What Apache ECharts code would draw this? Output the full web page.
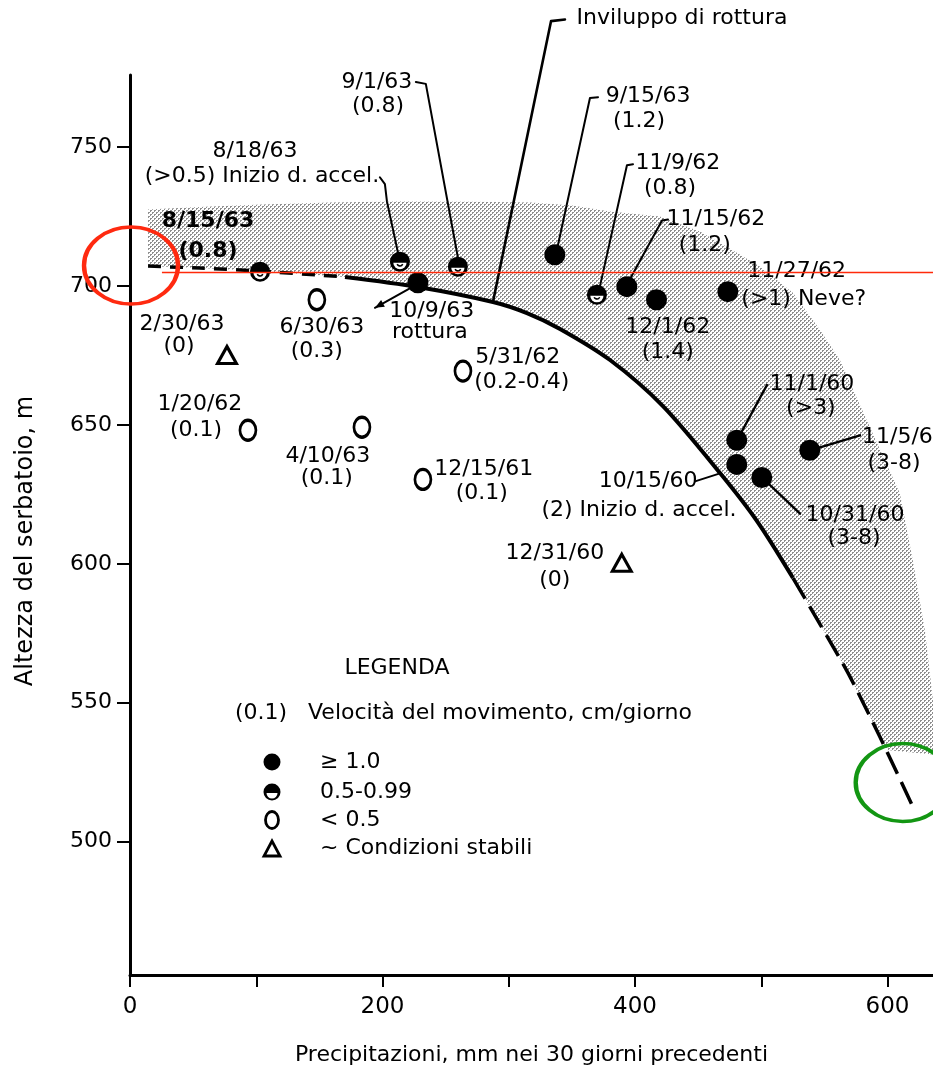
<!DOCTYPE html>
<html>
<head>
<meta charset="utf-8">
<script src="https://cdn.jsdelivr.net/npm/echarts@6/dist/echarts.min.js"></script>
<style>
html,body{margin:0;padding:0;background:#fff;}
#chart{width:933px;height:1075px;}
</style>
</head>
<body>
<div id="chart"></div>
<script>
// ================= DATA =================
// axis ticks / labels
const xTickValues = [0, 100, 200, 300, 400, 500, 600];
const xLabelValues = [0, 200, 400, 600];
const yTickValues = [500, 550, 600, 650, 700, 750];

// velocity >= 1.0 cm/day (filled circles)
const fastDates  = ['10/9/63', '9/15/63', '11/15/62', '12/1/62', '11/27/62', '11/1/60', '10/15/60', '10/31/60', '11/5/60'];
const fastPrecip = [228, 336.5, 393.5, 417, 473.5, 480.6, 480.6, 500.4, 538.4];
const fastLevel  = [701.2, 711.3, 699.8, 695.1, 698, 644.5, 635.8, 631.1, 640.9];

// velocity 0.5 - 0.99 (half filled)
const mediumDates  = ['8/15/63', '8/18/63', '9/1/63', '11/9/62'];
const mediumPrecip = [103, 213.8, 259.7, 369.8];
const mediumLevel  = [705.2, 708.8, 707, 696.9];

// velocity < 0.5 (open circles)
const slowDates  = ['1/20/62', '6/30/63', '4/10/63', '12/15/61', '5/31/62'];
const slowPrecip = [93.4, 148, 183.7, 232, 263.7];
const slowLevel  = [648.1, 695.1, 649.2, 630.4, 669.4];

// ~ stable conditions (triangles)
const stableDates  = ['2/30/63', '12/31/60'];
const stablePrecip = [76.8, 389.5];
const stableLevel  = [675.2, 600.4];

// failure envelope (Inviluppo di rottura)
const envDashLeftX  = [14.3, 55.4, 103, 170.3];
const envDashLeftY  = [707.2, 706.5, 705.4, 703.3];
const envSolidX     = [170.3, 228.1, 287.5, 314.4, 340.6, 380.2, 422.1, 467.3, 496.6, 525.1];
const envSolidY     = [703.3, 699.7, 694.3, 690.3, 684.6, 673.4, 656.8, 632.7, 615.4, 594.9];
const envDashRightX = [525.1, 567.9, 594.0, 620.1];
const envDashRightY = [594.9, 561.4, 537.7, 512.5];

// upper edge of the shaded band
const bandTopX = [14.3, 60, 105.3, 160, 211.4, 270, 316.7, 350, 380, 419.6, 451.3, 472.7, 498.8, 525, 546.4, 562.2, 586, 609.7, 620, 629.6, 636, 636];
const bandTopY = [727.6, 728.6, 729.4, 730.1, 730.5, 730.4, 730.1, 729, 726.9, 725.1, 719.7, 714.2, 707.1, 697.6, 684.3, 673.4, 649.2, 625.4, 601.2, 575.9, 550.6, 531.4];
const bandCutX = 599.4;
const bandCutY = 533.0;

// red reference line and highlight ellipses
const redLineLevel = 704.9;
const redLineFrom = 25.3;
const redMark = [0.8, 707.4];
const greenMark = [612, 521.3];

// ================= LAYOUT (annotations) =================
const FONT = '"DejaVu Sans", "Noto Sans", sans-serif';
const LBL = 22;
const annotations = [
  {t: '8/18/63', x: 99.0, y: 748.6},
  {t: '(>0.5) Inizio d. accel.', x: 104.5, y: 739.5},
  {t: '8/15/63', x: 61.8, y: 723.3, b: true},
  {t: '(0.8)', x: 61.8, y: 712.4, b: true},
  {t: '9/1/63', x: 195.6, y: 773.5},
  {t: '(0.8)', x: 196.4, y: 764.8},
  {t: 'Inviluppo di rottura', x: 437.2, y: 796.4},
  {t: '9/15/63', x: 410.3, y: 768.4},
  {t: '(1.2)', x: 403.2, y: 759.4},
  {t: '11/9/62', x: 434, y: 744.2},
  {t: '(0.8)', x: 427.7, y: 735.2},
  {t: '11/15/62', x: 464, y: 724.0},
  {t: '(1.2)', x: 455.3, y: 714.6},
  {t: '11/27/62', x: 528, y: 705.2},
  {t: '(>1) Neve?', x: 533.6, y: 695.1},
  {t: '12/1/62', x: 425.9, y: 685.0},
  {t: '(1.4)', x: 425.9, y: 676.3},
  {t: '2/30/63', x: 41.2, y: 686.1},
  {t: '(0)', x: 38.8, y: 678.2},
  {t: '6/30/63', x: 152, y: 685.0},
  {t: '(0.3)', x: 148, y: 676.7},
  {t: '10/9/63', x: 239, y: 690.8},
  {t: 'rottura', x: 237.5, y: 683.2},
  {t: '5/31/62', x: 307.1, y: 674.5},
  {t: '(0.2-0.4)', x: 310.3, y: 665.5},
  {t: '1/20/62', x: 55.4, y: 657.6},
  {t: '(0.1)', x: 52.3, y: 648.1},
  {t: '4/10/63', x: 156.7, y: 638.8},
  {t: '(0.1)', x: 155.9, y: 630.9},
  {t: '12/15/61', x: 280.2, y: 634.0},
  {t: '(0.1)', x: 278.6, y: 625.4},
  {t: '12/31/60', x: 336.5, y: 603.8},
  {t: '(0)', x: 336.5, y: 594.1},
  {t: '10/15/60', x: 410.3, y: 629.7},
  {t: '(2) Inizio d. accel.', x: 403.1, y: 619.3},
  {t: '11/1/60', x: 540.1, y: 664.8},
  {t: '(>3)', x: 539.3, y: 656.1},
  {t: '11/5/60', x: 579.8, y: 645.6, align: 'left'},
  {t: '(3-8)', x: 605.1, y: 636.3},
  {t: '10/31/60', x: 574.2, y: 617.4},
  {t: '(3-8)', x: 573.4, y: 609.1}
];
const leaders = [
  {w: 2, p: [[197.9, 739.2], [201.9, 736.7], [203.5, 730.5], [212.2, 712.1]]},
  {w: 2, p: [[226.4, 773.5], [234.3, 772.8], [259.7, 710.3]]},
  {w: 2.6, p: [[344.5, 796.0], [333.5, 795.4], [287.5, 694.4]]},
  {w: 2, p: [[370.7, 768], [364.3, 767.7], [338.2, 713.2]]},
  {w: 2, p: [[398.4, 743.9], [393.6, 743.5], [372.2, 699.9]]},
  {w: 2, p: [[426.1, 724], [421.4, 723.6], [394.4, 701.2]]},
  {w: 2, p: [[447.5, 629.7], [467.3, 632.6]]},
  {w: 2.4, p: [[480.8, 644.5], [504.5, 664.4]]},
  {w: 2.4, p: [[538.6, 640.9], [578.2, 646.3]]},
  {w: 2.4, p: [[500.6, 631.1], [530.7, 618.1]]},
  {w: 2, p: [[224.1, 699.8], [194, 692.2]], arrow: true}
];

// ================= BUILD =================
const zip = (xs, ys) => xs.map((x, i) => [x, ys[i]]);
const fastData = zip(fastPrecip, fastLevel).map((v, i) => ({name: fastDates[i], value: v}));
const mediumData = zip(mediumPrecip, mediumLevel).map((v, i) => ({name: mediumDates[i], value: v}));
const slowData = zip(slowPrecip, slowLevel).map((v, i) => ({name: slowDates[i], value: v}));
const stableData = zip(stablePrecip, stableLevel).map((v, i) => ({name: stableDates[i], value: v}));

const envLeft = zip(envDashLeftX, envDashLeftY);
const envSolid = zip(envSolidX, envSolidY);
const envRight = zip(envDashRightX, envDashRightY);

// band polygon (upper edge, then back along the envelope)
const bandPoly = zip(bandTopX, bandTopY)
  .concat([[bandCutX, bandCutY]])
  .concat(envRight.filter(p => p[0] < bandCutX).reverse())
  .concat(envSolid.slice().reverse())
  .concat(envLeft.slice().reverse());

// stipple (halftone dots) pattern
const pat = document.createElement('canvas');
pat.width = 4; pat.height = 4;
(function () {
  const g = pat.getContext('2d');
  g.fillStyle = '#ffffff'; g.fillRect(0, 0, 4, 4);
  g.fillStyle = '#8e8e8e';
  g.fillRect(0, 0, 2, 1); g.fillRect(0, 1, 1, 1);
  g.fillRect(2, 2, 2, 1); g.fillRect(2, 3, 1, 1);
})();

const chart = echarts.init(document.getElementById('chart'), null, {renderer: 'canvas'});

function txt(t, x, y, size, align, bold) {
  return {
    type: 'text', x: x, y: y, silent: true,
    style: {
      text: t, fill: '#000', font: (bold ? 'bold ' : '') + size + 'px ' + FONT,
      align: align || 'center', verticalAlign: 'middle',
      textAlign: align || 'center', textVerticalAlign: 'middle'
    }
  };
}

const option = {
  animation: false,
  backgroundColor: '#ffffff',
  grid: {left: 130, right: 0, top: 75, bottom: 100, containLabel: false},
  xAxis: {
    type: 'value', min: 0, max: 636,
    axisLine: {show: true, onZero: false, lineStyle: {color: '#000', width: 3}},
    axisTick: {show: true, length: 12, lineStyle: {color: '#000', width: 2}, customValues: xTickValues},
    axisLabel: {customValues: xLabelValues, margin: 21, color: '#000', fontSize: 23, fontFamily: FONT},
    splitLine: {show: false},
    name: 'Precipitazioni, mm nei 30 giorni precedenti',
    nameLocation: 'middle', nameGap: 69,
    nameTextStyle: {color: '#000', fontSize: 22, fontFamily: FONT}
  },
  yAxis: {
    type: 'value', min: 452, max: 776,
    axisLine: {show: true, onZero: false, lineStyle: {color: '#000', width: 3}},
    axisTick: {show: true, length: 13, lineStyle: {color: '#000', width: 2}, customValues: yTickValues},
    axisLabel: {customValues: yTickValues, margin: 18, color: '#000', fontSize: 22, fontFamily: FONT},
    splitLine: {show: false},
    name: 'Altezza del serbatoio, m',
    nameLocation: 'middle', nameGap: 92, nameRotate: 90,
    nameTextStyle: {color: '#000', fontSize: 24, fontFamily: FONT, padding: [0, 32, 0, 0]}
  },
  graphic: [
    txt('LEGENDA', 397, 668, 22),
    txt('(0.1)', 261, 713, 22),
    txt('Velocità del movimento, cm/giorno', 308, 713, 22, 'left'),
    {type: 'circle', shape: {cx: 272, cy: 762, r: 8.5}, style: {fill: '#000'}},
    txt('≥ 1.0', 320, 762, 22, 'left'),
    {type: 'circle', shape: {cx: 272, cy: 792, r: 8.5}, style: {fill: '#000'}},
    {type: 'sector', shape: {cx: 272, cy: 793, r0: 0, r: 5.5, startAngle: 0, endAngle: Math.PI, clockwise: true}, style: {fill: '#fff'}},
    txt('0.5-0.99', 320, 792, 22, 'left'),
    {type: 'ellipse', shape: {cx: 272, cy: 820, rx: 6.5, ry: 8.5}, style: {fill: '#fff', stroke: '#000', lineWidth: 2.8}},
    txt('< 0.5', 320, 820, 22, 'left'),
    {type: 'polygon', shape: {points: [[264, 856], [280, 856], [272, 841]]}, style: {fill: '#fff', stroke: '#000', lineWidth: 2.8}},
    txt('~ Condizioni stabili', 320, 848, 22, 'left')
  ],
  series: [
    { // shaded band
      type: 'custom', coordinateSystem: 'cartesian2d', silent: true, z: 1,
      data: [bandPoly[0]],
      renderItem: function (params, api) {
        return {
          type: 'polygon',
          shape: {points: bandPoly.map(p => api.coord(p)), smooth: 0},
          style: {fill: {image: pat, repeat: 'repeat'}, stroke: null}
        };
      }
    },
    {type: 'line', data: envLeft, smooth: 0.3, showSymbol: false, symbol: 'none', silent: true, z: 3,
     lineStyle: {color: '#000', width: 3.5, type: [13, 9]}},
    {type: 'line', data: envSolid, smooth: 0.3, showSymbol: false, symbol: 'none', silent: true, z: 3,
     lineStyle: {color: '#000', width: 4}},
    {type: 'line', data: envRight, smooth: 0.2, showSymbol: false, symbol: 'none', silent: true, z: 3,
     lineStyle: {color: '#000', width: 3.5, type: [24, 9]}},
    { // leader lines
      type: 'custom', coordinateSystem: 'cartesian2d', silent: true, z: 4, clip: false,
      data: leaders.map(l => l.p[0]),
      renderItem: function (params, api) {
        const l = leaders[params.dataIndex];
        const pts = l.p.map(p => api.coord(p));
        const children = [{type: 'polyline', shape: {points: pts}, style: {stroke: '#000', lineWidth: l.w, fill: null, lineCap: 'round', lineJoin: 'round'}}];
        if (l.arrow) {
          const a = pts[pts.length - 1], b = pts[pts.length - 2];
          const ang = Math.atan2(a[1] - b[1], a[0] - b[0]);
          const L = 10, W = 0.4;
          children.push({type: 'polygon', shape: {points: [a,
            [a[0] - L * Math.cos(ang - W), a[1] - L * Math.sin(ang - W)],
            [a[0] - L * Math.cos(ang + W), a[1] - L * Math.sin(ang + W)]]}, style: {fill: '#000'}});
        }
        return {type: 'group', children: children};
      }
    },
    {name: '≥ 1.0', type: 'scatter', data: fastData, symbol: 'circle', symbolSize: 21, z: 6, silent: true,
     itemStyle: {color: '#000', opacity: 1}},
    { // half-filled circles
      name: '0.5-0.99', type: 'custom', coordinateSystem: 'cartesian2d', silent: true, z: 6,
      data: mediumData,
      renderItem: function (params, api) {
        const p = api.coord([api.value(0), api.value(1)]);
        return {type: 'group', children: [
          {type: 'circle', shape: {cx: p[0], cy: p[1], r: 10}, style: {fill: '#000'}},
          {type: 'sector', shape: {cx: p[0], cy: p[1] + 1, r0: 0, r: 6.6, startAngle: 0, endAngle: Math.PI, clockwise: true}, style: {fill: '#fff'}},
          {type: 'arc', shape: {cx: p[0], cy: p[1] + 1, r: 3.2, startAngle: 0.5, endAngle: Math.PI - 0.5, clockwise: true}, style: {stroke: '#000', lineWidth: 1.5, fill: null}}
        ]};
      }
    },
    {name: '< 0.5', type: 'scatter', data: slowData, symbol: 'circle', symbolSize: [16, 20], z: 6, silent: true,
     itemStyle: {color: '#fff', borderColor: '#000', borderWidth: 3, opacity: 1}},
    {name: '~ Condizioni stabili', type: 'scatter', data: stableData, symbol: 'triangle', symbolSize: [19, 17], z: 6, silent: true,
     itemStyle: {color: '#fff', borderColor: '#000', borderWidth: 3, opacity: 1}},
    { // annotations
      type: 'custom', coordinateSystem: 'cartesian2d', silent: true, z: 8, clip: false,
      data: annotations.map(a => [a.x, a.y]),
      renderItem: function (params, api) {
        const a = annotations[params.dataIndex];
        const p = api.coord([a.x, a.y]);
        return txt(a.t, p[0], p[1], LBL, a.align, a.b);
      }
    },
    { // red reference line
      type: 'line', data: [[redLineFrom, redLineLevel], [636, redLineLevel]], showSymbol: false, symbol: 'none', silent: true, z: 9,
      lineStyle: {color: '#ff2a0a', width: 1.6}
    },
    {type: 'scatter', data: [redMark], symbol: 'circle', symbolSize: [94, 77], z: 10, silent: true, clip: false,
     itemStyle: {color: 'rgba(0,0,0,0)', borderColor: '#ff2a10', borderWidth: 4, opacity: 1}},
    {type: 'scatter', data: [greenMark], symbol: 'circle', symbolSize: [94, 78], z: 10, silent: true, clip: false,
     itemStyle: {color: 'rgba(0,0,0,0)', borderColor: '#139613', borderWidth: 4, opacity: 1}}
  ]
};
chart.setOption(option);
</script>
</body>
</html>
